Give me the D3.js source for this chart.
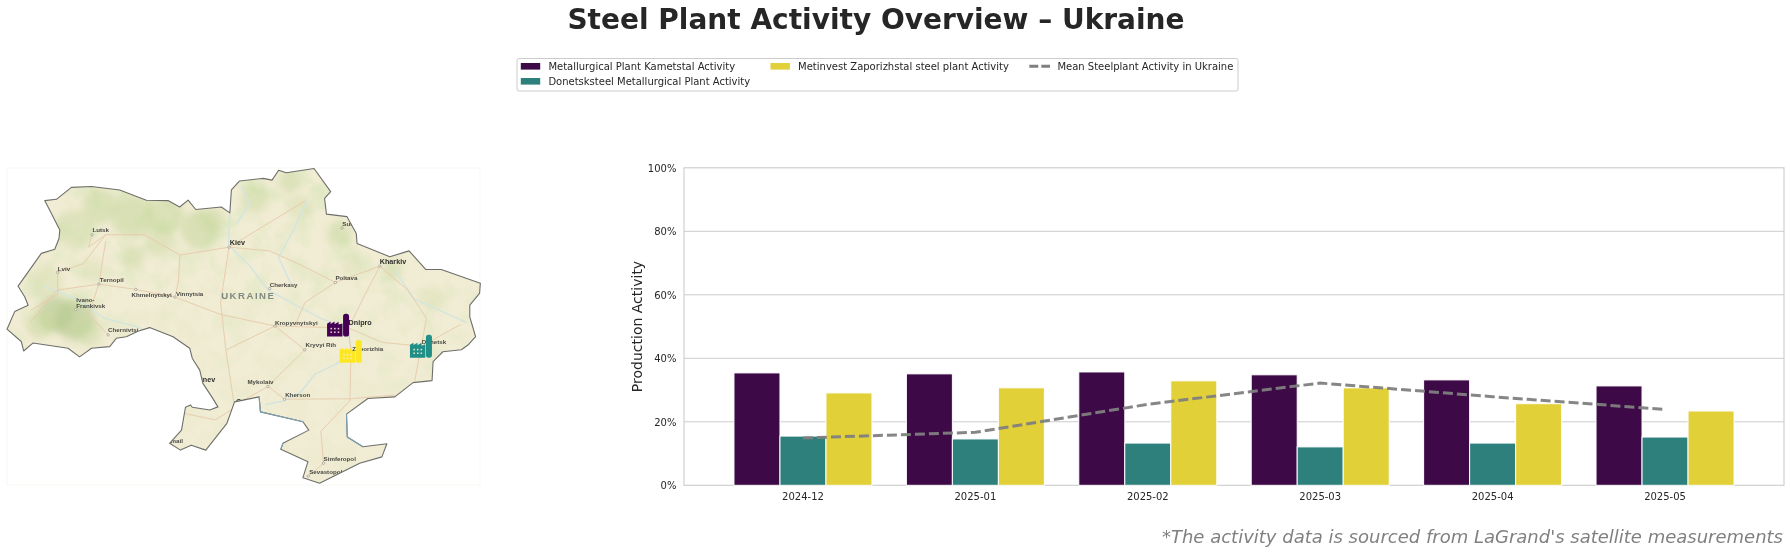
<!DOCTYPE html>
<html>
<head>
<meta charset="utf-8">
<script src="https://cdnjs.cloudflare.com/ajax/libs/d3/7.8.5/d3.min.js"></script>
<style>
  html, body { margin: 0; padding: 0; background: #fff; overflow: hidden; }
  text { font-family: "DejaVu Sans", sans-serif; fill: #262626; }
  .city { font-family: "Liberation Sans", sans-serif; font-weight: bold; font-size: 6.2px; fill: #4a4a44; }
  .bigcity { font-size: 7.2px; fill: #2e2e2a; }
</style>
</head>
<body>
<svg id="chart" width="1790" height="554"></svg>
<script>
////////// Chart data //////////
const months = ["2024-12", "2025-01", "2025-02", "2025-03", "2025-04", "2025-05"];
const kametstal = [35.4, 35.1, 35.7, 34.8, 33.2, 31.3];
const donetsksteel = [15.5, 14.6, 13.3, 12.1, 13.3, 15.2];
const zaporizhstal = [29.1, 30.7, 32.9, 30.7, 25.7, 23.4];
const meanActivity = [14.9, 16.7, 25.5, 32.2, 27.9, 23.9];
const yTicks = [0, 20, 40, 60, 80, 100];
const seriesNames = [
  "Metallurgical Plant Kametstal Activity",
  "Donetsksteel Metallurgical Plant Activity",
  "Metinvest Zaporizhstal steel plant Activity"
];
const meanName = "Mean Steelplant Activity in Ukraine";
const seriesColors = ["#3d0a47", "#2e807c", "#e2d039"];

////////// Map data (lon, lat) //////////
const ukraineOutline = [
  [23.54,51.56],[23.98,51.59],[24.55,51.87],[25.31,51.89],[26.38,51.81],[27.39,51.57],[28.21,51.56],
  [28.65,51.41],[28.97,51.57],[29.26,51.35],[30.23,51.41],[30.55,51.27],[30.61,51.81],[30.92,52.02],
  [31.81,52.08],[32.15,52.04],[32.40,52.27],[32.69,52.21],[33.74,52.31],[34.37,51.77],[34.14,51.61],
  [34.21,51.24],[34.99,51.18],[35.34,50.78],[35.37,50.54],[36.61,50.22],[37.34,50.36],[37.97,49.91],
  [38.56,49.91],[40.04,49.57],[40.01,49.32],[39.64,49.03],[39.64,48.74],[39.86,48.24],[39.57,48.03],
  [39.32,47.91],[38.62,47.86],[38.25,47.61],[38.21,47.12],[37.49,47.07],[36.80,46.70],[35.78,46.66],
  [34.97,46.25],[35.00,45.65],[35.59,45.39],[36.50,45.47],[36.31,45.12],[35.47,44.95],[33.95,44.41],
  [33.32,44.56],[33.51,44.99],[32.48,45.32],[32.56,45.48],[33.54,45.83],[33.32,46.05],[31.71,46.31],
  [31.66,46.70],[30.73,46.57],[30.44,46.01],[29.64,45.30],[29.09,45.43],[28.68,45.30],[28.27,45.48],
  [28.72,45.83],[28.87,46.43],[29.06,46.49],[29.13,46.43],[29.79,46.36],[30.10,46.44],[29.85,46.72],
  [29.53,47.05],[29.41,47.39],[29.13,47.69],[29.03,47.95],[28.40,48.24],[27.51,48.47],[27.07,48.38],
  [26.63,48.24],[26.25,48.20],[26.00,47.99],[25.31,47.95],[24.86,47.73],[24.42,47.95],[23.09,48.08],
  [22.74,47.88],[22.65,48.12],[22.11,48.43],[22.40,48.87],[22.91,49.03],[22.78,49.24],[22.53,49.50],
  [23.41,50.30],[23.92,50.40],[24.08,50.66],[24.11,50.86],[23.54,51.56]
];
// stretches of coast where the source map shows water along the border
const coastHints = [
  [[34.97,46.25],[35.00,45.65],[35.59,45.39]],
  [[33.32,46.05],[31.71,46.31],[31.66,46.70]],
  [[32.48,45.32],[32.56,45.48]]
];
const cities = [
  ["Lutsk", 25.33, 50.75], ["Lviv", 24.03, 49.84], ["Ternopil", 25.59, 49.55],
  ["Khmelnytskyi", 26.99, 49.42], ["Vinnytsia", 28.47, 49.23], ["Ivano-", 24.71, 48.92],
  ["Chernivtsi", 25.94, 48.29], ["Sumy", 34.80, 50.91], ["Cherkasy", 32.06, 49.44],
  ["Poltava", 34.55, 49.59], ["Kropyvnytskyi", 32.26, 48.51], ["Kryvyi Rih", 33.39, 47.91],
  ["Mykolaiv", 31.99, 46.97], ["Kherson", 32.62, 46.64], ["Simferopol", 34.10, 44.95],
  ["Sevastopol", 33.52, 44.60]
];
const bigCities = [
  ["Kiev", 30.52, 50.45], ["Kharkiv", 36.23, 49.99], ["Dnipro", 35.05, 48.46],
  ["Odesa", 30.72, 46.48], ["Chisinev", 28.86, 47.01]
];
const plainLabels = [["Zaporizhia", 35.14, 47.84], ["Donetsk", 37.80, 48.00], ["Izmail", 28.84, 45.35]];
const plants = [
  ["Kametstal", 34.65, 48.53], ["Donetsksteel", 37.79, 48.00], ["Zaporizhstal", 35.13, 47.87]
];
const plantColors = ["#440154", "#1f8f88", "#fde725"];
const forests = [
  [24.67,48.66,0.5,0.6],[23.95,48.80,0.45,0.6],[23.35,48.55,0.35,0.5],[25.2,48.35,0.35,0.4],
  [25.62,51.45,0.4,0.5],[26.87,51.17,0.5,0.55],[28.08,51.22,0.45,0.5],[29.41,50.87,0.45,0.55],
  [26.87,50.21,0.28,0.45],[27.9,50.6,0.35,0.4],[32.8,52.0,0.25,0.45],[34.7,50.75,0.3,0.45],
  [36.7,49.9,0.22,0.45],[33.2,51.4,0.3,0.3],[35.2,50.0,0.3,0.25],[38.2,49.2,0.3,0.25],
  [24.7,50.9,0.45,0.4],[23.6,49.6,0.4,0.3],[25.3,49.9,0.3,0.25],[29.9,51.1,0.3,0.45],[31.5,51.6,0.35,0.35]
];
const rivers = [
  [[30.55,51.27],[30.5,50.5],[31.3,50.0],[32.0,49.4],[33.0,49.05],[34.0,48.7],[35.0,48.45],[35.15,47.9],[34.6,47.55],[33.8,47.3],[33.2,46.8],[32.6,46.6],[31.9,46.5]],
  [[36.8,49.9],[37.5,49.2],[38.5,48.9],[39.5,48.6]],
  [[23.5,49.5],[24.7,49.2],[25.8,48.7],[27,48.5],[28.3,48.1],[29.2,47.2],[29.9,46.5]],
  [[31.0,51.9],[31.3,51.5],[30.8,51.0]],
  [[33.5,51.6],[33.0,50.9],[32.4,50.2],[32.9,49.5]]
];
const roads = [
  [[30.52,50.45],[28.66,50.26],[27.3,50.75],[25.85,50.75],[25.2,50.45],[25.33,50.75]],
  [[24.03,49.84],[25.0,50.05],[25.85,50.75]],
  [[25.85,50.6],[25.59,49.55],[25.2,48.8],[25.94,48.29]],
  [[28.66,50.26],[28.6,49.6],[28.47,49.23],[26.99,49.42],[25.59,49.55],[24.0,49.4],[23.0,48.6]],
  [[24.03,49.84],[24.03,49.3],[23.0,48.9]],
  [[30.52,50.45],[33.4,51.55]],
  [[30.52,50.45],[32.06,50.36],[33.3,50.0],[34.55,49.59],[36.23,49.99]],
  [[34.55,49.59],[33.4,49.1],[33.0,48.5]],
  [[36.23,49.99],[35.6,49.2],[35.05,48.46],[35.14,47.84],[35.1,46.6],[34.0,45.8],[34.1,44.95],[33.52,44.60]],
  [[36.23,49.99],[37.3,49.4],[38.0,48.7],[37.8,48.0],[37.55,47.1]],
  [[35.05,48.46],[36.3,48.1],[37.8,48.0],[39.3,48.55]],
  [[30.52,50.45],[30.2,49.1],[30.4,47.9],[30.72,46.48],[32.0,46.97],[32.62,46.64],[35.1,46.65],[36.8,46.75]],
  [[28.47,49.23],[30.2,48.8],[32.26,48.51],[33.39,47.91],[31.99,46.97]],
  [[32.26,48.51],[35.05,48.46]],
  [[30.4,47.9],[32.26,48.51]],
  [[28.6,46.3],[30.0,46.1],[30.7,46.4]]
];

const svg = d3.select("#chart");

////////// Map //////////
const projection = d3.geoMercator().scale(1512.6).translate([-576.7, 1794.5]);
const geoPath = d3.geoPath(projection);
const ukraine = { type: "Polygon", coordinates: [ukraineOutline] };

const defs = svg.append("defs");
defs.append("clipPath").attr("id", "ukraineClip").append("path").attr("d", geoPath(ukraine));
defs.append("filter").attr("id", "soft").attr("x", "-40%").attr("y", "-40%").attr("width", "180%").attr("height", "180%")
  .append("feGaussianBlur").attr("stdDeviation", 3.5);
defs.append("filter").attr("id", "fine")
  .append("feGaussianBlur").attr("stdDeviation", 0.3);
// mottled land texture
const mottle = defs.append("filter").attr("id", "mottle").attr("x", 0).attr("y", 0).attr("width", "100%").attr("height", "100%");
mottle.append("feTurbulence").attr("type", "fractalNoise").attr("baseFrequency", 0.045).attr("numOctaves", 3).attr("seed", 7);
mottle.append("feColorMatrix").attr("type", "matrix")
  .attr("values", "0 0 0 0 0.72  0 0 0 0 0.80  0 0 0 0 0.52  2.6 0 0 0 -1.15");
// the texture fades out towards the south
const fade = defs.append("linearGradient").attr("id", "northFade").attr("x1", 0).attr("x2", 0).attr("y1", 0).attr("y2", 1);
fade.append("stop").attr("offset", "0.1").attr("stop-color", "#fff").attr("stop-opacity", 1);
fade.append("stop").attr("offset", "0.75").attr("stop-color", "#fff").attr("stop-opacity", 0.25);
defs.append("mask").attr("id", "northMask").attr("maskUnits", "userSpaceOnUse")
  .attr("x", 0).attr("y", 160).attr("width", 490).attr("height", 330)
  .append("rect").attr("x", 0).attr("y", 160).attr("width", 490).attr("height", 330).attr("fill", "url(#northFade)");

svg.append("rect").attr("x", 7).attr("y", 168).attr("width", 473).attr("height", 317)
  .attr("fill", "none").attr("stroke", "#f7f7f1").attr("stroke-width", 1);

const mapLayer = svg.append("g").attr("clip-path", "url(#ukraineClip)");
const mapInner = mapLayer.append("g").attr("filter", "url(#fine)");
mapInner.append("path").attr("d", geoPath(ukraine)).attr("fill", "#f1ecd4");
mapInner.append("g").attr("mask", "url(#northMask)")
  .append("rect").attr("x", 0).attr("y", 160).attr("width", 490).attr("height", 330)
  .attr("filter", "url(#mottle)");

const patches = mapInner.append("g").attr("filter", "url(#soft)");
forests.forEach(f => {
  patches.append("path")
    .attr("d", geoPath(d3.geoCircle().center([f[0], f[1]]).radius(f[2])()))
    .attr("fill", f[3] > 0.55 ? "#b4c88e" : "#c6d79c")
    .attr("opacity", f[3]);
});

rivers.forEach(r => {
  mapInner.append("path")
    .attr("d", geoPath({ type: "LineString", coordinates: r }))
    .attr("fill", "none").attr("stroke", "#d3e5df").attr("stroke-width", 1.5);
});
roads.forEach(r => {
  mapInner.append("path")
    .attr("d", geoPath({ type: "LineString", coordinates: r }))
    .attr("fill", "none").attr("stroke", "#e8c8aa").attr("stroke-width", 0.9);
});

// factory bodies go under the city names, chimneys above them
const iconBodies = mapLayer.append("g");
plants.forEach((pl, i) => {
  const p = projection([pl[1], pl[2]]);
  const icon = iconBodies.append("g").attr("transform", `translate(${p[0]},${p[1]})`).attr("fill", plantColors[i]);
  icon.append("path").attr("d", "M-11 11.4V-1.5L-7.5-3.6V-1.2L-3.5-3.6V-1L0.5-3.4V-0.6L4.4-1.8V11.4Z");
  [-7.6, -4, -0.4].forEach(wx => {
    [2.6, 6.2].forEach(wy => {
      icon.append("rect").attr("x", wx).attr("y", wy).attr("width", 1.6).attr("height", 1.6)
        .attr("fill", "#f6eed2").attr("opacity", 0.85);
    });
  });
});

// city dots and names, names get cut by the border as in the source map
const labelOffset = {
  "Lutsk": [0.4, -5.3], "Lviv": [0, -4.3], "Ternopil": [1, -4.7], "Khmelnytskyi": [-4.3, 5],
  "Vinnytsia": [1, -4], "Ivano-": [0.7, -10.3], "Chernivtsi": [0, -5], "Sumy": [0.3, -4.6],
  "Cherkasy": [0, -4.3], "Poltava": [0, -4.7], "Kropyvnytskyi": [0, -4], "Kryvyi Rih": [0.7, -5],
  "Mykolaiv": [-20.4, -5], "Kherson": [0.7, -4.7], "Simferopol": [0, -4.4], "Sevastopol": [1, -4.4],
  "Kiev": [0.7, -4.3], "Kharkiv": [0, -5], "Dnipro": [0, -5.7], "Odesa": [1.7, -4], "Chisinev": [30, -5.7],
  "Zaporizhia": [1.2, -4.5], "Donetsk": [0.5, -4.6], "Izmail": [-1.7, -8]
};
const cityDots = mapLayer.append("g");
cities.concat(bigCities.slice(0, 2)).forEach(c => {
  const p = projection([c[1], c[2]]);
  cityDots.append("rect").attr("x", p[0] - 1.1).attr("y", p[1] - 1.1).attr("width", 2.2).attr("height", 2.2)
    .attr("rx", 0.8).attr("fill", "#fbf8ec").attr("stroke", "#77776f").attr("stroke-width", 0.5);
});
const cityNames = mapLayer.append("g");
function addCityLabel(c, cls) {
  const p = projection([c[1], c[2]]);
  const off = labelOffset[c[0]];
  return cityNames.append("text").attr("class", cls)
    .attr("x", p[0] + off[0]).attr("y", p[1] + off[1])
    .attr("dominant-baseline", "central").text(c[0]);
}
cities.forEach(c => addCityLabel(c, "city"));
plainLabels.forEach(c => addCityLabel(c, "city"));
bigCities.forEach(c => addCityLabel(c, "city bigcity"));
cityNames.selectAll("text").filter(function () { return this.textContent === "Chisinev" || this.textContent === "Izmail"; })
  .attr("text-anchor", "end");
{
  const p = projection([24.71, 48.92]);
  cityNames.append("text").attr("class", "city").attr("x", p[0] + 0.7).attr("y", p[1] - 4.6)
    .attr("dominant-baseline", "central").text("Frankivsk");
}
const countryPos = projection([31.25, 49.27]);
cityNames.append("text").attr("x", countryPos[0]).attr("y", countryPos[1])
  .attr("text-anchor", "middle").attr("dominant-baseline", "central")
  .style("font-family", "'Liberation Sans', sans-serif").style("font-weight", "bold")
  .style("font-size", "9.6px").style("letter-spacing", "1.5px").style("fill", "#7f8a80")
  .text("UKRAINE");

svg.append("path").attr("d", geoPath(ukraine))
  .attr("fill", "none").attr("stroke", "#6e6e69").attr("stroke-width", 1.1).attr("stroke-linejoin", "round");
coastHints.forEach(c => {
  svg.append("path").attr("d", geoPath({ type: "LineString", coordinates: c }))
    .attr("fill", "none").attr("stroke", "#7fa3b5").attr("stroke-width", 1.1);
});

plants.forEach((pl, i) => {
  const p = projection([pl[1], pl[2]]);
  svg.append("rect").attr("x", p[0] + 5).attr("y", p[1] - 11.4).attr("width", 6).attr("height", 22.8).attr("rx", 2.6)
    .attr("fill", plantColors[i]);
});

////////// Bar chart //////////
const plotLeft = 684, plotRight = 1784, plotTop = 167.8, plotBottom = 485.3;
const x0 = d3.scaleBand().domain(months).range([plotLeft, plotRight]).paddingInner(0).paddingOuter(0.19);
const x1 = d3.scaleBand().domain(seriesNames).range([0, x0.bandwidth()]).paddingInner(0).paddingOuter(0.374);
const y = d3.scaleLinear().domain([0, 100]).range([plotBottom, plotTop]);
const color = d3.scaleOrdinal().domain(seriesNames).range(seriesColors);

svg.append("g").selectAll("line").data(yTicks.slice(1, -1)).enter().append("line")
  .attr("x1", plotLeft).attr("x2", plotRight)
  .attr("y1", d => y(d)).attr("y2", d => y(d))
  .attr("stroke", "#cccccc").attr("stroke-width", 1);
svg.append("rect").attr("x", plotLeft).attr("y", plotTop)
  .attr("width", plotRight - plotLeft).attr("height", plotBottom - plotTop)
  .attr("fill", "none").attr("stroke", "#cccccc").attr("stroke-width", 1.1);

const seriesValues = [kametstal, donetsksteel, zaporizhstal];
seriesNames.forEach((name, s) => {
  svg.append("g").selectAll("rect").data(seriesValues[s]).enter().append("rect")
    .attr("x", (d, i) => x0(months[i]) + x1(name))
    .attr("y", d => y(d))
    .attr("width", x1.bandwidth())
    .attr("height", d => y(0) - y(d))
    .attr("fill", color(name))
    .attr("stroke", "#fff").attr("stroke-width", 1);
});

const meanLine = d3.line()
  .x((d, i) => x0(months[i]) + x0.bandwidth() / 2)
  .y(d => y(d));
svg.append("path").datum(meanActivity).attr("d", meanLine)
  .attr("fill", "none").attr("stroke", "#808080").attr("stroke-opacity", 0.95)
  .attr("stroke-width", 3).attr("stroke-dasharray", "10,4");

const yAxis = d3.axisLeft(y).tickValues(yTicks).tickSize(0).tickPadding(7.6).tickFormat(d => d + "%");
const xAxis = d3.axisBottom(x0).tickSize(0).tickPadding(8);
svg.append("g").attr("transform", `translate(${plotLeft},0)`).call(yAxis)
  .call(g => g.select(".domain").remove())
  .selectAll("text").style("font-size", "10px").style("font-family", "'DejaVu Sans', sans-serif");
svg.append("g").attr("transform", `translate(0,${plotBottom})`).call(xAxis)
  .call(g => g.select(".domain").remove())
  .selectAll("text").style("font-size", "10px").style("font-family", "'DejaVu Sans', sans-serif");

svg.append("text")
  .attr("transform", `translate(637,326.5) rotate(-90)`)
  .attr("text-anchor", "middle").attr("dominant-baseline", "central")
  .style("font-size", "14px").text("Production Activity");

////////// Title, legend, note //////////
svg.append("text").attr("x", 876).attr("y", 19)
  .attr("text-anchor", "middle").attr("dominant-baseline", "central")
  .style("font-size", "28px").style("font-weight", "bold").text("Steel Plant Activity Overview – Ukraine");

svg.append("text").attr("x", 1783).attr("y", 536)
  .attr("text-anchor", "end").attr("dominant-baseline", "central")
  .style("font-size", "18px").style("font-style", "italic").style("fill", "#808080")
  .text("*The activity data is sourced from LaGrand's satellite measurements");

const legend = svg.append("g");
legend.append("rect").attr("x", 517).attr("y", 58.5).attr("width", 721).attr("height", 32.5).attr("rx", 2)
  .attr("fill", "#fff").attr("stroke", "#cccccc").attr("stroke-width", 1);
const legendPos = [[520.8, 66.3], [520.8, 81.3], [770.5, 66.3]];
seriesNames.forEach((name, i) => {
  legend.append("rect").attr("x", legendPos[i][0]).attr("y", legendPos[i][1] - 3.3)
    .attr("width", 19.4).attr("height", 6.6).attr("fill", color(name));
  legend.append("text").attr("x", legendPos[i][0] + 27.6).attr("y", legendPos[i][1])
    .attr("dominant-baseline", "central").style("font-size", "10px").text(name);
});
legend.append("line").attr("x1", 1029.3).attr("x2", 1050).attr("y1", 66.3).attr("y2", 66.3)
  .attr("stroke", "#808080").attr("stroke-width", 3).attr("stroke-dasharray", "9,3");
legend.append("text").attr("x", 1057.4).attr("y", 66.3)
  .attr("dominant-baseline", "central").style("font-size", "10px").text(meanName);
</script>
</body>
</html>
